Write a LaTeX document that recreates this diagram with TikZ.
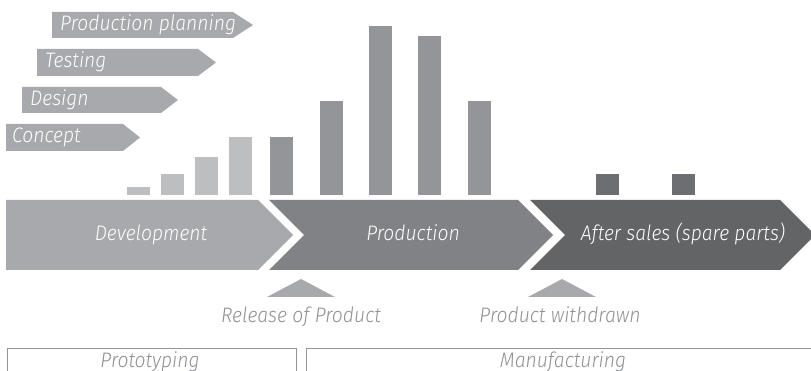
\documentclass[tikz,border=0pt]{standalone}
\usepackage{fontspec}
\setmainfont{Fira Sans Light}[ItalicFont={Fira Sans Light Italic}]
\definecolor{barlight}{HTML}{BCBEC0}
\definecolor{barmid}{HTML}{939598}
\definecolor{bardark}{HTML}{6D6E71}
\definecolor{phasegray}{HTML}{A7A9AC}
\definecolor{prodgray}{HTML}{808285}
\definecolor{aftergray}{HTML}{636466}
\definecolor{txtgray}{HTML}{8E9093}
\tikzset{
  lblfont/.style={inner sep=0pt, xscale=0.92, font=\fontsize{21}{24}\selectfont\itshape},
  phaselbl/.style={lblfont, anchor=base west, text=white},
  mainlbl/.style={lblfont, anchor=base, text=white},
  undertxt/.style={lblfont, anchor=base, text=txtgray},
}
\begin{document}
\begin{tikzpicture}[x=1pt,y=-1pt]
\useasboundingbox (0,0) rectangle (811,371);
\clip (0,0) rectangle (811,371);
% phase tags
\fill[phasegray] (52,12) -- (233,12) -- (253,25) -- (233,38) -- (52,38) -- cycle;
\fill[phasegray] (37,49) -- (198,49) -- (216,62.5) -- (198,76) -- (37,76) -- cycle;
\fill[phasegray] (22,87) -- (161,87) -- (178,100) -- (161,113) -- (22,113) -- cycle;
\fill[phasegray] (6,124) -- (123,124) -- (140,137.5) -- (123,151) -- (6,151) -- cycle;
\node[phaselbl] (pp) at (60,31) {Production planning};
\node[phaselbl] (te) at (45,68) {Testing};
\node[phaselbl] (de) at (30,106) {Design};
\node[phaselbl] (co) at (12,143) {Concept};
% bars
\fill[barlight] (127,187) rectangle (150,195);
\fill[barlight] (161,174) rectangle (184,195);
\fill[barlight] (195,157) rectangle (218,195);
\fill[barlight] (229,137) rectangle (252,195);
\fill[barmid] (270,137) rectangle (293,195);
\fill[barmid] (320,101) rectangle (343,195);
\fill[barmid] (369,26) rectangle (392,195);
\fill[barmid] (418,36) rectangle (441,195);
\fill[barmid] (468,101) rectangle (491,195);
\fill[bardark] (596,174) rectangle (619,195);
\fill[bardark] (672,174) rectangle (695,195);
% main chevrons
\fill[phasegray] (6,200) -- (258,200) -- (293,235) -- (258,270) -- (6,270) -- cycle;
\fill[prodgray] (269,200) -- (518,200) -- (553,235) -- (518,270) -- (269,270) -- (304,235) -- cycle;
\fill[aftergray] (530,200) -- (780,200) -- (815,235) -- (780,270) -- (530,270) -- (565,235) -- cycle;
\node[mainlbl] (dev) at (151,241) {Development};
\node[mainlbl] (prod) at (413,241) {Production};
\node[mainlbl] (after) at (683,241) {After sales (spare parts)};
% milestones
\fill[phasegray] (267,297) -- (301,279) -- (335,297) -- cycle;
\fill[phasegray] (528,297) -- (562,279) -- (596,297) -- cycle;
\node[undertxt] (rel) at (301,323) {Release of Product};
\node[undertxt] (wd) at (560,323) {Product withdrawn};
% bottom brackets
\draw[barmid, line width=0.8pt] (7,380) -- (7,348.5) -- (296,348.5) -- (296,380);
\draw[barmid, line width=0.8pt] (306.5,380) -- (306.5,348.5) -- (820,348.5);
\node[undertxt] (proto) at (150,367) {Prototyping};
\node[undertxt] (manu) at (563,367) {Manufacturing};
\end{tikzpicture}
\end{document}
